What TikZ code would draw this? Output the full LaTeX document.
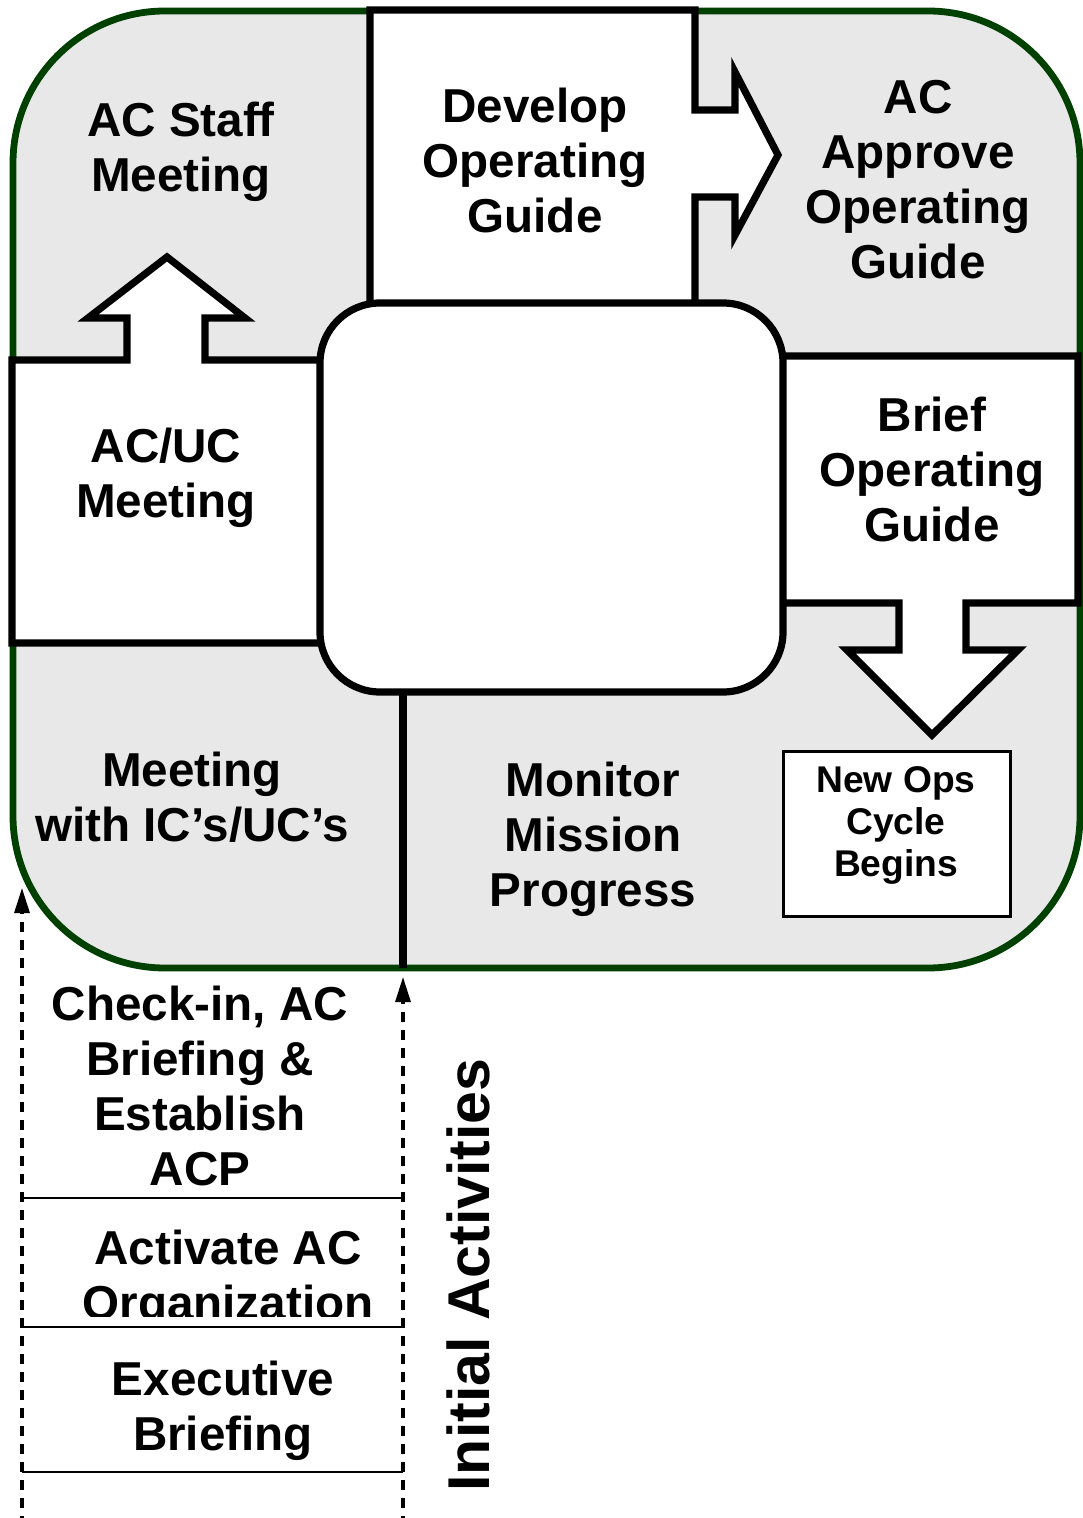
\documentclass[tikz,border=0pt]{standalone}
\usepackage{fontspec}
\setmainfont{Liberation Sans}
\usetikzlibrary{arrows.meta}
\definecolor{framegreen}{RGB}{0,64,0}
\definecolor{panelgray}{RGB}{232,232,232}
\begin{document}
\begin{tikzpicture}[x=0.5pt,y=-0.5pt,
  panel/.style={draw=framegreen, line width=3.4pt, fill=panelgray, rounded corners=76pt},
  blockshape/.style={draw=black, line width=3.6pt, fill=white, line join=miter, miter limit=10},
  hub/.style={draw=black, line width=3.6pt, fill=white, rounded corners=30pt, inner sep=0pt},
  divider/.style={draw=black, line width=3.6pt},
  opsbox/.style={draw=black, line width=1.5pt, fill=white, inner sep=0pt},
  rule/.style={draw=black, line width=1.4pt},
  dasharrow/.style={draw=black, line width=1.6pt, dash pattern=on 5pt off 4pt, -{Triangle[length=12.5pt,width=7.5pt]}},
  lbl/.style={font=\bfseries\fontsize{23.8}{27.5}\selectfont, align=center, inner sep=0pt},
  smalllbl/.style={font=\bfseries\fontsize{18.6}{21}\selectfont, align=center, inner sep=0pt},
  sidelbl/.style={font=\bfseries\fontsize{29.5}{34}\selectfont, inner sep=0pt, rotate=90}
]
\useasboundingbox (0,0) rectangle (1082,1518);
\fill[white] (0,0) rectangle (1082,1518);

% outer panel
\path[panel] (13,11) rectangle (1080,968);

% divider below the hub
\coordinate (divtop) at (403,692);
\coordinate (divbot) at (403,968);
\draw[divider] (divtop) -- (divbot);

% Develop box with right arrow
\path[blockshape] (370,10) -- (695,10) -- (695,110) -- (735,110) -- (735,72) -- (778,155)
  -- (735,235) -- (735,197) -- (695,197) -- (695,330) -- (370,330) -- cycle;

% AC/UC box with up arrow
\path[blockshape] (12,360) -- (127,360) -- (127,318) -- (88,318) -- (167,257) -- (245,318)
  -- (205,318) -- (205,360) -- (350,360) -- (350,643) -- (12,643) -- cycle;

% Brief box with down arrow
\path[blockshape] (760,356) -- (1078,356) -- (1078,603) -- (966,603) -- (966,650) -- (1018,650)
  -- (932,735) -- (847,650) -- (899,650) -- (899,603) -- (760,603) -- cycle;

% central hub
\node[hub, minimum width=231.5pt, minimum height=194.5pt] (hub) at (551.5,497.5) {};

% New Ops box
\node[opsbox, minimum width=113.5pt, minimum height=82.5pt] (ops) at (896.5,833.5) {};

% labels
\node[lbl] (staff) at (181,152) {AC Staff\\Meeting};
\node[lbl] (develop) at (535,160) {Develop\\Operating\\Guide};
\node[lbl] (approve) at (918,180) {AC\\Approve\\Operating\\Guide};
\node[lbl] (acuc) at (166,478) {AC/UC\\Meeting};
\node[lbl] (brief) at (932,469) {Brief\\Operating\\Guide};
\node[lbl] (icuc) at (192,797) {Meeting\\with IC’s/UC’s};
\node[lbl] (monitor) at (593,839) {Monitor\\Mission\\Progress};
\node[smalllbl] (opslbl) at (896,825) {New Ops\\Cycle\\Begins};

% initial activities
\coordinate (la0) at (22,1526);
\coordinate (la1) at (22,888);
\coordinate (ra0) at (403,1526);
\coordinate (ra1) at (403,977);
\draw[dasharrow] (la0) -- (la1);
\draw[dasharrow] (ra0) -- (ra1);

\coordinate (r1a) at (22,1198); \coordinate (r1b) at (403,1198);
\coordinate (r2a) at (22,1327); \coordinate (r2b) at (403,1327);
\coordinate (r3a) at (22,1472); \coordinate (r3b) at (403,1472);
\draw[rule] (r1a) -- (r1b);
\draw[rule] (r2a) -- (r2b);
\draw[rule] (r3a) -- (r3b);

\node[lbl] (checkin) at (200,1086) {Check-in, AC\\Briefing \&\\Establish\\ACP};
\begin{scope}
  \clip (24,1200) rectangle (400,1316);
  \node[lbl] (activate) at (228,1280) {Activate AC\\Organization};
\end{scope}
\node[lbl] (exec) at (223,1411) {Executive\\Briefing};
\node[sidelbl] (initial) at (468,1275) {Initial Activities};
\end{tikzpicture}
\end{document}
